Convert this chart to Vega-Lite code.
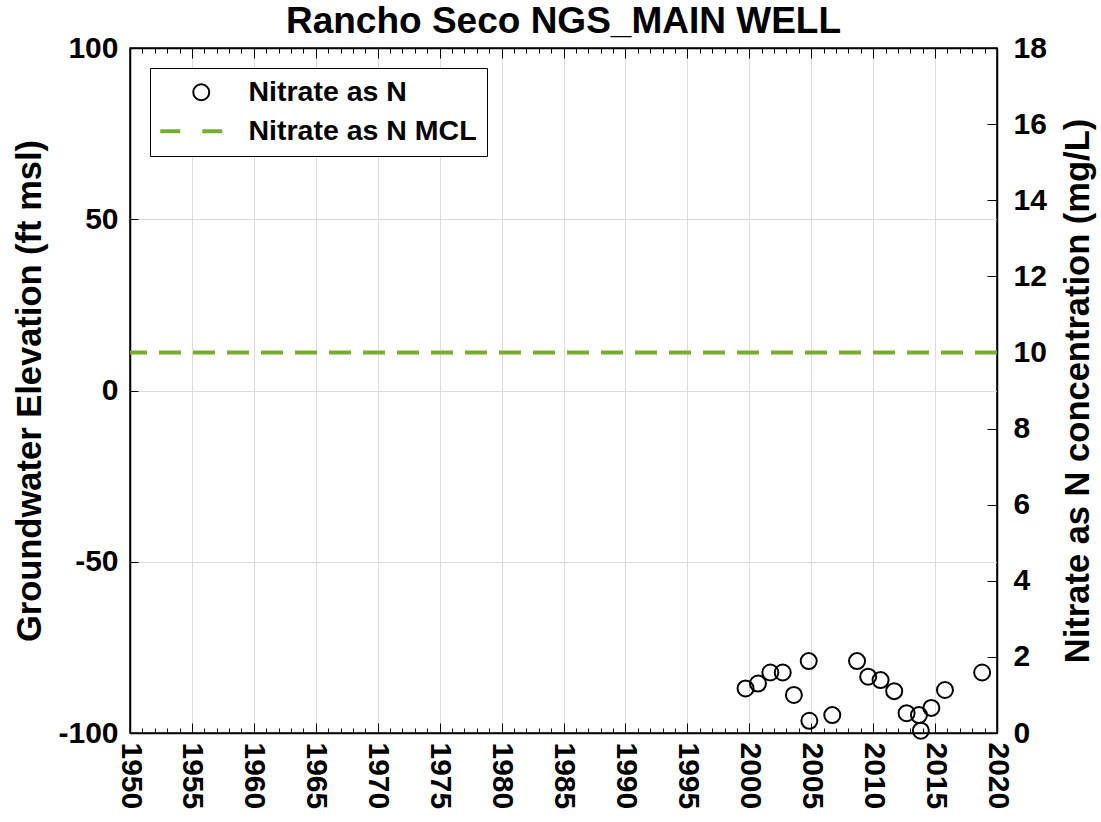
{
  "$schema": "https://vega.github.io/schema/vega-lite/v6.json",
  "width": 867,
  "height": 685,
  "autosize": {"type": "none"},
  "padding": {"left": 130, "top": 48, "right": 104, "bottom": 89},
  "background": "white",
  "title": {"text": "Rancho Seco NGS_MAIN WELL", "font": "Liberation Sans", "fontSize": 37, "fontWeight": "bold", "color": "black", "anchor": "middle", "offset": -8},
  "config": {
    "view": {"stroke": "black", "strokeWidth": 1.5},
    "axis": {"labelFont": "Liberation Sans", "labelFontWeight": "bold", "labelColor": "black", "titleFont": "Liberation Sans", "titleFontWeight": "bold", "titleColor": "black", "domainColor": "black", "domainWidth": 1.5, "tickColor": "black", "tickWidth": 1, "gridColor": "#dcdcdc", "gridWidth": 1},
    "legend": {"orient": "top-left", "offset": 20, "padding": 10, "strokeColor": "black", "fillColor": "white",
      "labelFont": "Liberation Sans", "labelFontWeight": "bold", "labelFontSize": 28.5, "labelColor": "black", "labelLimit": 500,
      "symbolSize": 256, "symbolStrokeWidth": 2, "symbolOpacity": 1, "symbolOffset": 27, "labelOffset": 33, "rowPadding": 10, "cornerRadius": 0}
  },
  "layer": [
    {
      "data": {"values": [{"year": 1950, "elev": -100}, {"year": 2020, "elev": 100}]},
      "mark": {"type": "point", "opacity": 0},
      "encoding": {
        "x": {"field": "year", "type": "quantitative", "scale": {"domain": [1950, 2020], "nice": false, "zero": false},
          "axis": {"orient": "top", "title": null, "labels": false, "grid": false, "values": [1950,1951,1952,1953,1954,1955,1956,1957,1958,1959,1960,1961,1962,1963,1964,1965,1966,1967,1968,1969,1970,1971,1972,1973,1974,1975,1976,1977,1978,1979,1980,1981,1982,1983,1984,1985,1986,1987,1988,1989,1990,1991,1992,1993,1994,1995,1996,1997,1998,1999,2000,2001,2002,2003,2004,2005,2006,2007,2008,2009,2010,2011,2012,2013,2014,2015,2016,2017,2018,2019,2020],
            "tickSize": {"condition": {"test": "datum.value % 5 === 0", "value": -10}, "value": -5}}},
        "y": {"field": "elev", "type": "quantitative", "scale": {"domain": [-100, 100], "nice": false, "zero": false},
          "axis": {"orient": "left", "title": "Groundwater Elevation (ft msl)", "titleFontSize": 34.5, "titlePadding": 10, "values": [-100, -50, 0, 50, 100], "labelExpr": "datum.value + ''", "labelFontSize": 30, "labelPadding": 20, "tickSize": -8, "grid": true}}
      }
    },
    {
      "layer": [
        {
          "data": {"values": [
            {"year": 1999.7, "conc": 1.17, "series": "Nitrate as N"},
            {"year": 2000.7, "conc": 1.30, "series": "Nitrate as N"},
            {"year": 2001.7, "conc": 1.59, "series": "Nitrate as N"},
            {"year": 2002.7, "conc": 1.59, "series": "Nitrate as N"},
            {"year": 2003.6, "conc": 1.00, "series": "Nitrate as N"},
            {"year": 2004.8, "conc": 1.89, "series": "Nitrate as N"},
            {"year": 2004.85, "conc": 0.32, "series": "Nitrate as N"},
            {"year": 2006.7, "conc": 0.47, "series": "Nitrate as N"},
            {"year": 2008.7, "conc": 1.89, "series": "Nitrate as N"},
            {"year": 2009.6, "conc": 1.48, "series": "Nitrate as N"},
            {"year": 2010.6, "conc": 1.39, "series": "Nitrate as N"},
            {"year": 2011.7, "conc": 1.10, "series": "Nitrate as N"},
            {"year": 2012.7, "conc": 0.52, "series": "Nitrate as N"},
            {"year": 2013.7, "conc": 0.47, "series": "Nitrate as N"},
            {"year": 2013.85, "conc": 0.06, "series": "Nitrate as N"},
            {"year": 2014.7, "conc": 0.66, "series": "Nitrate as N"},
            {"year": 2015.8, "conc": 1.13, "series": "Nitrate as N"},
            {"year": 2018.8, "conc": 1.59, "series": "Nitrate as N"}
          ]},
          "mark": {"type": "point", "filled": false, "strokeWidth": 2, "size": 256, "opacity": 1, "clip": false},
          "encoding": {
            "x": {"field": "year", "type": "quantitative", "scale": {"domain": [1950, 2020], "nice": false, "zero": false},
              "axis": {"orient": "bottom", "title": null, "values": [1950,1951,1952,1953,1954,1955,1956,1957,1958,1959,1960,1961,1962,1963,1964,1965,1966,1967,1968,1969,1970,1971,1972,1973,1974,1975,1976,1977,1978,1979,1980,1981,1982,1983,1984,1985,1986,1987,1988,1989,1990,1991,1992,1993,1994,1995,1996,1997,1998,1999,2000,2001,2002,2003,2004,2005,2006,2007,2008,2009,2010,2011,2012,2013,2014,2015,2016,2017,2018,2019,2020],
                "labelExpr": "datum.value % 5 === 0 ? datum.label : ''", "format": "d", "labelAngle": 90, "labelAlign": "left", "labelBaseline": "middle", "labelFontSize": 30, "labelPadding": 19,
                "tickSize": {"condition": {"test": "datum.value % 5 === 0", "value": -10}, "value": -5},
                "grid": true, "gridOpacity": {"condition": {"test": "datum.value % 5 === 0", "value": 1}, "value": 0}}},
            "y": {"field": "conc", "type": "quantitative", "scale": {"domain": [0, 18], "nice": false, "zero": false},
              "axis": {"orient": "right", "title": "Nitrate as N concentration (mg/L)", "titleFontSize": 34.5, "titleAngle": 270, "titleBaseline": "top", "titlePadding": 15, "grid": false,
                "values": [0,0.5,1,1.5,2,2.5,3,3.5,4,4.5,5,5.5,6,6.5,7,7.5,8,8.5,9,9.5,10,10.5,11,11.5,12,12.5,13,13.5,14,14.5,15,15.5,16,16.5,17,17.5,18],
                "labelExpr": "datum.value % 2 === 0 ? datum.label : ''", "labelFontSize": 30, "labelPadding": 26,
                "tickSize": {"condition": {"test": "datum.value % 2 === 0", "value": -10}, "value": -5}}},
            "color": {"field": "series", "type": "nominal", "scale": {"domain": ["Nitrate as N", "Nitrate as N MCL"], "range": ["black", "#77AC30"]}, "legend": {"title": null}},
            "shape": {"field": "series", "type": "nominal", "scale": {"domain": ["Nitrate as N", "Nitrate as N MCL"], "range": ["circle", "M-5,-0.125H-2.75V0.125H-5ZM0.25,-0.125H2.5V0.125H0.25Z"]}, "legend": {"title": null}}
          }
        },
        {
          "data": {"values": [{"mcl": 10, "series": "Nitrate as N MCL"}]},
          "mark": {"type": "rule", "strokeWidth": 4, "strokeDash": [22, 12]},
          "encoding": {
            "y": {"field": "mcl", "type": "quantitative"},
            "color": {"field": "series", "type": "nominal", "legend": {"title": null}}
          }
        }
      ]
    }
  ],
  "resolve": {"scale": {"x": "independent", "y": "independent"}}
}
